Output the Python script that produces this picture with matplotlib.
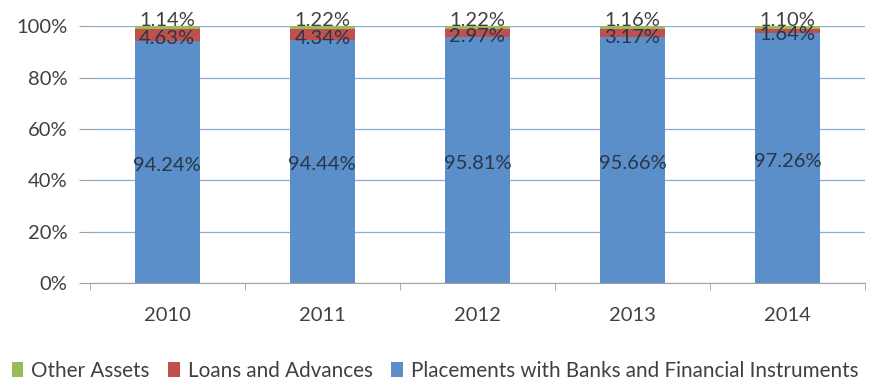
import matplotlib.pyplot as plt
import numpy as np

years = ["2010", "2011", "2012", "2013", "2014"]
placements = [94.24, 94.44, 95.81, 95.66, 97.26]
loans = [4.63, 4.34, 2.97, 3.17, 1.64]
other = [1.14, 1.22, 1.22, 1.16, 1.10]

BLUE = "#5b8fc9"
RED = "#c0504d"
GREEN = "#9bbb59"
GRID = "#8aaedb"
TEXT = "#404040"
LABEL = "#2a3548"

plt.rcParams["font.family"] = ["Lato", "DejaVu Sans"]

fig = plt.figure(figsize=(8.89, 3.9), dpi=100)
ax = fig.add_axes([0.101, 0.274, 0.872, 0.659])

x = np.arange(len(years))
w = 0.42
p = np.array(placements)
l = np.array(loans)
o = np.array(other)

b1 = ax.bar(x, p, w, color=BLUE, zorder=2, label="Placements with Banks and Financial Instruments")
b2 = ax.bar(x, l, w, bottom=p, color=RED, zorder=2, label="Loans and Advances")
b3 = ax.bar(x, o, w, bottom=p + l, color=GREEN, zorder=2, label="Other Assets")

for i in range(len(years)):
    ax.text(x[i], p[i] / 2 - 1.2, f"{placements[i]:.2f}%", ha="center", va="center",
            fontsize=14.5, color=LABEL, zorder=3)
    ax.text(x[i], p[i] + l[i] / 2 - 1.5, f"{loans[i]:.2f}%", ha="center", va="center",
            fontsize=14.5, color=LABEL, zorder=3)
    ax.text(x[i], 99.0, f"{other[i]:.2f}%", ha="center", va="bottom",
            fontsize=14.5, color=TEXT, zorder=3)

ax.set_xlim(-0.5, len(years) - 0.5)
ax.set_ylim(0, 100)
ax.set_yticks(np.arange(0, 101, 20))
ax.set_yticklabels([f"{v}%" for v in range(0, 101, 20)])
ax.yaxis.grid(True, color=GRID, linewidth=0.9, zorder=0)
ax.set_xticks(x)
ax.set_xticklabels(years)
ax.set_xticks(np.arange(-0.5, len(years), 1), minor=True)

for s in ["top", "right", "left"]:
    ax.spines[s].set_visible(False)
ax.spines["bottom"].set_color("#a0a0a0")
ax.tick_params(axis="y", length=8, color="#a0a0a0", labelsize=14.5, labelcolor=TEXT, pad=8)
ax.tick_params(axis="x", which="major", length=0, labelsize=14.5, labelcolor=TEXT, pad=17)
ax.tick_params(axis="x", which="minor", length=5, color="#a0a0a0")

handles = [b3, b2, b1]
fig.legend(handles, [h.get_label() for h in handles], loc="lower left",
           bbox_to_anchor=(-0.008, -0.025), ncol=3, frameon=False, fontsize=14.9,
           handlelength=0.55, handleheight=0.75, handletextpad=0.4, columnspacing=0.9,
           labelcolor=TEXT)

fig.savefig("out.png", dpi=100)
